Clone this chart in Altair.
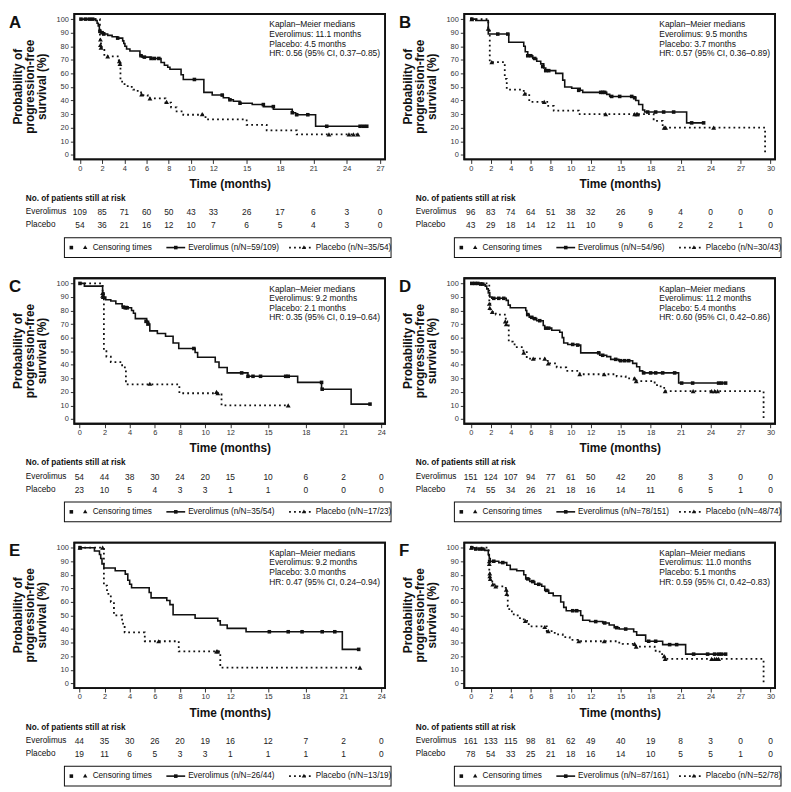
import altair as alt
import pandas as pd

FONT = "Liberation Sans, Arial, Helvetica, sans-serif"
INK = "#111111"

TICKS_24 = [0, 2, 4, 6, 8, 10, 12, 15, 18, 21, 24]
TICKS_27 = TICKS_24 + [27]
TICKS_30 = TICKS_27 + [30]

# ---------------- Panel A ----------------
A_ev_t = [0, 1.4, 1.55, 1.65, 1.75, 1.85, 2.2, 2.5, 2.9, 3.4, 3.85, 3.95, 4.05, 4.2, 4.5, 5.4, 5.6, 6.4, 7.3, 7.6, 7.9, 8.1, 9.1, 9.3, 11.15, 11.9, 12.9, 13.4, 13.8, 14.4, 15.5, 16.5, 17.4, 19.1, 19.4, 21.2, 25.8]
A_ev_s = [100, 99, 97, 95, 92, 90, 89, 88, 87, 86, 84, 82, 80, 78, 76.5, 73, 72, 71, 68, 66, 64.5, 63, 59, 55.5, 46, 44, 42, 40.5, 39.5, 38, 37, 35.5, 33.5, 31, 29.5, 21, 21]
A_evc_t = [0.1, 0.5, 0.85, 1.15, 1.8, 2.0, 2.15, 3.4, 5.5, 5.8, 6.4, 6.7, 7.1, 10.3, 12.8, 13.5, 14.4, 16.5, 17.4, 19.1, 19.5, 20.5, 22.2, 25.2, 25.5, 25.8]
A_evc_s = [100, 100, 100, 100, 91, 90, 89, 86, 73, 72, 71, 71, 71, 55.5, 44, 40.5, 38, 37, 35.5, 31, 29.5, 29.5, 21, 21, 21, 21]
A_pl_t = [0, 1.8, 1.9, 2.2, 3.5, 3.65, 3.8, 4.3, 4.8, 5.2, 5.5, 6.1, 7.7, 8.2, 8.7, 9.3, 11.3, 15.0, 16.8, 19.5, 25.1]
A_pl_s = [100, 85, 79, 72.5, 68, 55, 52, 50, 48, 46, 44, 41.5, 38.5, 35, 32, 29.5, 26, 22, 18, 15, 15]
A_plc_t = [1.85, 1.85, 1.9, 2.5, 3.55, 3.6, 5.55, 6.3, 7.8, 11.0, 22.4, 24.2, 24.6, 25.0]
A_plc_s = [85, 81, 79, 72.5, 69, 67, 44.5, 41.5, 39, 30, 15, 15, 15, 15]
A_risk_ev = [109, 85, 71, 60, 50, 43, 33, 26, 17, 6, 3, 0]
A_risk_pl = [54, 36, 21, 16, 12, 10, 7, 6, 5, 4, 3, 0]
A_med = ["Kaplan\u2013Meier medians", "Everolimus: 11.1 months", "Placebo: 4.5 months", "HR: 0.56 (95% CI, 0.37\u20130.85)"]
A_nN = ["59/109", "35/54"]

# ---------------- Panel B ----------------
B_ev_t = [0, 0.5, 1.75, 3.8, 5.3, 5.45, 5.7, 6.2, 6.6, 7.0, 7.3, 7.5, 8.5, 9.2, 9.4, 10.1, 10.95, 11.2, 13.6, 13.9, 16.3, 16.5, 16.8, 17.2, 17.4, 21.6, 23.3]
B_ev_s = [100, 99, 89, 83, 80, 76, 73, 71, 69, 67, 64, 62, 60, 55, 50, 49, 47.5, 46, 44.5, 43, 42, 40, 37, 33, 31.5, 23.5, 23.5]
B_evc_t = [0.1, 2.7, 3.7, 5.7, 6.0, 6.4, 7.2, 7.5, 7.8, 10.8, 13.0, 13.2, 13.4, 14.1, 14.9, 16.1, 16.4, 17.7, 18.5, 19.3, 20.3, 22.1, 23.3]
B_evc_s = [100, 89, 89, 73, 73, 71, 65, 62, 62, 47.5, 46, 46, 46, 43, 43, 43, 42, 31.5, 31.5, 31.5, 31.5, 23.5, 23.5]
B_pl_t = [0, 1.75, 1.9, 3.4, 3.6, 5.3, 5.85, 7.65, 8.3, 10.8, 18.3, 19.2, 29.45]
B_pl_s = [100, 93, 68.3, 56, 48, 45, 39, 36, 32.5, 30, 25, 20, 0]
B_plc_t = [0.1, 1.75, 2.1, 5.4, 7.35, 13.5, 16.4, 16.6, 16.7, 19.35, 19.5, 24.3]
B_plc_s = [100, 93, 68.3, 45, 39, 30, 30, 30, 30, 20, 20, 20]
B_risk_ev = [96, 83, 74, 64, 51, 38, 32, 26, 9, 4, 0, 0, 0]
B_risk_pl = [43, 29, 18, 14, 12, 11, 10, 9, 6, 2, 2, 1, 0]
B_med = ["Kaplan\u2013Meier medians", "Everolimus: 9.5 months", "Placebo: 3.7 months", "HR: 0.57 (95% CI, 0.36\u20130.89)"]
B_nN = ["54/96", "30/43"]

# ---------------- Panel C ----------------
C_ev_t = [0, 0.4, 1.85, 1.95, 2.1, 2.5, 2.9, 3.4, 3.8, 4.15, 4.3, 4.45, 5.35, 5.5, 5.6, 6.2, 6.85, 7.45, 7.9, 9.2, 9.4, 10.8, 11.1, 11.75, 13.4, 17.35, 19.25, 21.6, 23.1]
C_ev_s = [100, 98, 93, 90, 88, 87, 85, 83, 82, 80, 78, 74, 72, 70, 65, 63, 61, 56, 52, 49, 45.5, 42, 38, 34, 31.5, 27, 22, 11, 11]
C_evc_t = [0.05, 3.5, 3.65, 3.8, 5.3, 5.45, 9.1, 12.9, 13.4, 13.8, 14.4, 16.4, 16.6, 19.25, 19.3, 23.1]
C_evc_s = [100, 82.5, 82, 82, 72, 70, 52, 34, 31.5, 31.5, 31.5, 31.5, 31.5, 27, 22, 11]
C_pl_t = [0, 1.85, 1.95, 2.15, 2.5, 3.4, 3.7, 7.95, 11.3, 16.6]
C_pl_s = [100, 92, 50, 46, 42, 38, 25.5, 19, 10, 10]
C_plc_t = [1.85, 1.85, 1.9, 5.6, 10.9, 11.0, 16.6]
C_plc_s = [93, 91, 90, 26, 20, 19, 10]
C_risk_ev = [54, 44, 38, 30, 24, 20, 15, 10, 6, 2, 0]
C_risk_pl = [23, 10, 5, 4, 3, 3, 1, 1, 0, 0, 0]
C_med = ["Kaplan\u2013Meier medians", "Everolimus: 9.2 months", "Placebo: 2.1 months", "HR: 0.35 (95% CI, 0.19\u20130.64)"]
C_nN = ["35/54", "17/23"]

# ---------------- Panel D ----------------
D_ev_t = [0, 1.0, 1.3, 1.45, 1.6, 1.75, 1.9, 2.1, 3.55, 3.75, 3.95, 5.5, 5.6, 5.85, 6.2, 6.6, 7.25, 7.4, 8.1, 8.9, 9.15, 9.3, 9.7, 10.6, 11.0, 12.9, 13.6, 14.0, 14.8, 16.2, 16.6, 16.9, 17.2, 20.8, 25.6]
D_ev_s = [100, 99.5, 99, 98, 96, 93, 90, 89, 87.5, 84, 82, 80, 77, 75, 74, 72.5, 69, 67, 65.5, 64, 60, 56, 55, 54.5, 48.8, 47, 46, 44, 43, 41, 38.5, 35.5, 34, 26.5, 26.5]
D_evc_t = [0.1, 0.4, 0.7, 1.0, 1.2, 2.3, 2.8, 3.3, 5.7, 6.1, 6.4, 6.9, 7.5, 7.8, 10.2, 10.7, 12.8, 13.2, 14.5, 15.0, 15.4, 15.8, 17.3, 18.0, 18.5, 19.2, 20.4, 21.1, 22.2, 24.8, 25.1, 25.5]
D_evc_s = [100, 100, 100, 99.5, 99.5, 89, 89, 89, 77, 75, 74, 72.5, 67, 67, 55, 54.5, 48.8, 47, 44, 43, 43, 43, 34, 34, 34, 34, 34, 26.5, 26.5, 26.5, 26.5, 26.5]
D_pl_t = [0, 1.85, 1.95, 2.2, 2.5, 3.5, 3.65, 3.8, 4.2, 4.6, 5.1, 5.6, 7.7, 8.6, 9.55, 10.9, 14.6, 15.5, 16.6, 18.4, 19.0, 19.5, 29.3]
D_pl_s = [100, 85, 80, 79, 77, 72, 70, 57, 55, 53, 50.5, 44.5, 41, 38, 35.5, 33, 31.5, 30, 28, 25, 23, 20.5, 0]
D_plc_t = [1.85, 1.9, 2.15, 3.45, 3.55, 5.3, 6.25, 7.4, 7.75, 10.9, 13.35, 16.4, 16.55, 19.45, 22.25, 24.1, 24.4, 24.7]
D_plc_s = [85, 82, 79, 72, 70, 49, 44.5, 44.5, 41, 33, 33, 30, 28, 20.5, 20.5, 20.5, 20.5, 20.5]
D_risk_ev = [151, 124, 107, 94, 77, 61, 50, 42, 20, 8, 3, 0, 0]
D_risk_pl = [74, 55, 34, 26, 21, 18, 16, 14, 11, 6, 5, 1, 0]
D_med = ["Kaplan\u2013Meier medians", "Everolimus: 11.2 months", "Placebo: 5.4 months", "HR: 0.60 (95% CI, 0.42\u20130.86)"]
D_nN = ["78/151", "48/74"]

# ---------------- Panel E ----------------
E_ev_t = [0, 1.2, 1.6, 1.7, 1.8, 1.95, 2.85, 3.65, 3.85, 4.0, 4.15, 5.55, 5.7, 6.95, 7.2, 7.45, 9.2, 11.0, 11.2, 11.75, 13.25, 20.9, 22.2]
E_ev_s = [100, 97.5, 95, 92, 88, 85, 83, 80.5, 76, 73, 70.5, 67, 63, 61, 58, 50.5, 48, 46, 43, 40.5, 38, 25, 25]
E_evc_t = [0.05, 15.1, 16.6, 17.7, 19.3, 20.3, 22.2]
E_evc_s = [100, 38, 38, 38, 38, 38, 25]
E_pl_t = [0, 1.95, 2.2, 2.5, 2.75, 3.4, 3.6, 5.2, 7.9, 11.2, 22.3]
E_pl_s = [100, 72, 66, 60, 50, 44, 37.5, 31, 23.5, 11.5, 11.5]
E_plc_t = [0.05, 1.85, 6.3, 10.9, 11.0, 22.3]
E_plc_s = [100, 100, 31, 23.5, 23.5, 11.5]
E_risk_ev = [44, 35, 30, 26, 20, 19, 16, 12, 7, 2, 0]
E_risk_pl = [19, 11, 6, 5, 3, 3, 1, 1, 1, 1, 0]
E_med = ["Kaplan\u2013Meier medians", "Everolimus: 9.2 months", "Placebo: 3.0 months", "HR: 0.47 (95% CI, 0.24\u20130.94)"]
E_nN = ["26/44", "13/19"]

# ---------------- Panel F ----------------
F_ev_t = [0, 0.4, 1.4, 1.75, 1.85, 1.95, 2.8, 3.6, 3.95, 4.6, 5.3, 5.5, 5.9, 6.4, 7.1, 7.4, 7.8, 8.25, 9.0, 9.3, 9.55, 11.0, 11.2, 11.9, 13.2, 13.85, 14.35, 14.85, 16.3, 16.6, 17.5, 19.2, 21.5, 25.6]
F_ev_s = [100, 99, 98, 95, 92, 90, 89, 87, 84, 83, 80, 77, 75, 73, 71.5, 68.5, 66.5, 64.5, 60, 56, 53.5, 50, 46.5, 45.5, 44.5, 43, 41, 40, 38, 35.5, 31, 28.5, 21.5, 21.5]
F_evc_t = [0.1, 0.5, 0.9, 1.2, 2.3, 3.2, 5.7, 6.2, 6.8, 7.6, 10.2, 10.6, 12.5, 13.4, 14.6, 15.5, 17.8, 18.5, 19.9, 20.6, 22.3, 23.7, 24.4, 24.8, 25.1, 25.5]
F_evc_s = [100, 99, 99, 99, 90, 89, 77, 75, 73, 68.5, 53.5, 53.5, 45.5, 44.5, 41, 40, 31, 31, 28.5, 28.5, 21.5, 21.5, 21.5, 21.5, 21.5, 21.5]
F_pl_t = [0, 1.8, 1.85, 1.9, 2.15, 2.5, 3.5, 3.6, 3.7, 3.85, 4.3, 4.8, 5.3, 5.8, 7.6, 8.4, 9.2, 9.9, 10.7, 14.6, 15.2, 16.5, 18.4, 18.9, 19.4, 29.3]
F_pl_s = [100, 90, 81, 77, 73, 71.5, 69, 66, 57, 53, 50, 48, 46, 42, 38.5, 36, 34, 32, 31, 30, 29, 27, 24, 21.5, 18, 0]
F_plc_t = [0.05, 1.85, 1.85, 1.9, 1.9, 1.95, 2.2, 2.5, 3.55, 3.6, 5.45, 7.4, 7.75, 10.8, 13.35, 16.4, 16.55, 19.35, 19.45, 24.1, 24.4, 24.6, 24.8]
F_plc_s = [100, 90, 88, 81, 79, 77, 73, 71.5, 69, 66, 46, 41.5, 38.5, 31, 31, 29, 27, 20, 18, 18, 18, 18, 18]
F_risk_ev = [161, 133, 115, 98, 81, 62, 49, 40, 19, 8, 3, 0, 0]
F_risk_pl = [78, 54, 33, 25, 21, 18, 16, 14, 10, 5, 5, 1, 0]
F_med = ["Kaplan\u2013Meier medians", "Everolimus: 11.0 months", "Placebo: 5.1 months", "HR: 0.59 (95% CI, 0.42\u20130.83)"]
F_nN = ["87/161", "52/78"]

W, H = 314, 147
YDOM = [-3.5, 103.8]
ONE = pd.DataFrame({"k": [0]})

# vertical layout (pixels from the top of each plot frame)
MED_Y = [10.5, 20.2, 29.9, 39.6]
Y_HEAD, Y_EV, Y_PL = 187, 200.5, 213.5
LEG_TOP, LEG_BOT = 226, 246
LEG_MID = (LEG_TOP + LEG_BOT) / 2


def txt(text, x, y, size=8.5, weight="normal", align="left", baseline="middle", angle=0, color=INK):
    kw = dict(fontSize=size, fontWeight=weight, align=align, baseline=baseline, color=color)
    if angle:
        kw["angle"] = angle
    return alt.Chart(ONE).mark_text(**kw).encode(
        x=alt.value(x), y=alt.value(y), text=alt.value(text))


def sym(shape, x, y, size):
    return alt.Chart(ONE).mark_point(shape=shape, filled=True, size=size, color=INK,
                                     opacity=1).encode(x=alt.value(x), y=alt.value(y))


def hline(x1, x2, y, width, dash=None):
    kw = dict(color=INK, strokeWidth=width)
    if dash:
        kw["strokeDash"] = dash
    return alt.Chart(ONE).mark_rule(**kw).encode(
        x=alt.value(x1), x2=alt.value(x2), y=alt.value(y))


def ring_path(half_w, half_h, lw):
    # filled outline of a rectangle (outer clockwise, inner counter-clockwise -> hole)
    a, b = half_w + lw / 2, half_h + lw / 2
    c, d = half_w - lw / 2, half_h - lw / 2
    return (f"M{-a:.2f},{-b:.2f}H{a:.2f}V{b:.2f}H{-a:.2f}Z"
            f"M{-c:.2f},{-d:.2f}V{d:.2f}H{c:.2f}V{-d:.2f}Z")


def ring(x1, x2, y1, y2, lw):
    # symbol size 4 -> custom path drawn at 1:1 pixel scale
    return alt.Chart(ONE).mark_point(shape=ring_path((x2 - x1) / 2, (y2 - y1) / 2, lw),
                                     filled=True, size=4, color=INK, opacity=1,
                                     strokeWidth=0).encode(
        x=alt.value((x1 + x2) / 2), y=alt.value((y1 + y2) / 2))


def panel(letter, dom, ticks, ev_t, ev_s, evc_t, evc_s, pl_t, pl_s, plc_t, plc_s,
          risk_ev, risk_pl, med, nN):
    X = alt.X("t:Q", scale=alt.Scale(domain=dom, nice=False, zero=False),
              axis=alt.Axis(values=ticks, title="Time (months)", grid=False, domain=False,
                            tickSize=4, tickColor="#333", labelFontSize=7.5, labelColor="#333",
                            labelPadding=1, labelFlush=False, titleFontSize=12,
                            titleFontWeight="bold", titleColor=INK, titlePadding=7))
    Y = alt.Y("s:Q", scale=alt.Scale(domain=YDOM, nice=False, zero=False),
              axis=alt.Axis(values=list(range(0, 101, 10)), title=None, grid=False,
                            domain=False, tickSize=4, tickColor="#333", labelFontSize=7.5,
                            labelColor="#333", labelPadding=2))
    ev = pd.DataFrame({"t": ev_t, "s": ev_s})
    pl = pd.DataFrame({"t": pl_t, "s": pl_s})
    evc = pd.DataFrame({"t": evc_t, "s": evc_s})
    plc = pd.DataFrame({"t": plc_t, "s": plc_s})
    rk_e = pd.DataFrame({"t": ticks[:len(risk_ev)], "n": risk_ev})
    rk_p = pd.DataFrame({"t": ticks[:len(risk_pl)], "n": risk_pl})

    layers = [
        ring(0, W, 0, H, 1.8),                 # plot frame
        ring(-10, 320, LEG_TOP, LEG_BOT, 1),   # legend frame
        alt.Chart(pl).mark_line(interpolate="step-after", color=INK, strokeWidth=1.8,
                                strokeDash=[1.8, 3.2]).encode(x=X, y=Y),
        alt.Chart(ev).mark_line(interpolate="step-after", color=INK,
                                strokeWidth=1.6).encode(x=X, y=Y),
        alt.Chart(evc).mark_point(shape="square", filled=True, size=13, color=INK,
                                  opacity=1).encode(x=X, y=Y),
        alt.Chart(plc).mark_point(shape="triangle-up", filled=True, size=24, color=INK,
                                  opacity=1).encode(x=X, y=Y),
    ]
    # medians box
    layers += [txt(m, 197, yy, size=8.5) for m, yy in zip(med, MED_Y)]
    layers += [
        # panel letter and y title
        txt(letter, -66, 14, size=17, weight="bold", baseline="alphabetic"),
        txt("Probability of", -57, H / 2, size=12, weight="bold", align="center", angle=270),
        txt("progression-free", -45, H / 2, size=12, weight="bold", align="center", angle=270),
        txt("survival (%)", -33, H / 2, size=12, weight="bold", align="center", angle=270),
        # risk table
        txt("No. of patients still at risk", -49, Y_HEAD, size=8.3, weight="bold"),
        txt("Everolimus", -49, Y_EV, size=8.3),
        txt("Placebo", -49, Y_PL, size=8.3),
        alt.Chart(rk_e).mark_text(fontSize=8.5, align="center", baseline="middle",
                                  color="#222").encode(x=X, y=alt.value(Y_EV), text="n:N"),
        alt.Chart(rk_p).mark_text(fontSize=8.5, align="center", baseline="middle",
                                  color="#222").encode(x=X, y=alt.value(Y_PL), text="n:N"),
        # legend contents
        sym("square", -3, LEG_MID, 13),
        sym("triangle-up", 11, LEG_MID - 0.5, 20),
        txt("Censoring times", 18.5, LEG_MID, size=8.3),
        hline(93, 112, LEG_MID, 1.6),
        sym("square", 102.5, LEG_MID, 13),
        txt("Everolimus (n/N=%s)" % nN[0], 115, LEG_MID, size=8.3),
        hline(217, 242, LEG_MID, 1.8, dash=[1.8, 3.2]),
        sym("triangle-up", 232, LEG_MID - 0.5, 20),
        txt("Placebo (n/N=%s)" % nN[1], 244, LEG_MID, size=8.3),
    ]
    return alt.layer(*layers).properties(width=W, height=H)


pA = panel("A", [-0.5, 27.45], TICKS_27, A_ev_t, A_ev_s, A_evc_t, A_evc_s, A_pl_t, A_pl_s,
           A_plc_t, A_plc_s, A_risk_ev, A_risk_pl, A_med, A_nN)
pB = panel("B", [-0.65, 30.45], TICKS_30, B_ev_t, B_ev_s, B_evc_t, B_evc_s, B_pl_t, B_pl_s,
           B_plc_t, B_plc_s, B_risk_ev, B_risk_pl, B_med, B_nN)
pC = panel("C", [-0.4, 24.3], TICKS_24, C_ev_t, C_ev_s, C_evc_t, C_evc_s, C_pl_t, C_pl_s,
           C_plc_t, C_plc_s, C_risk_ev, C_risk_pl, C_med, C_nN)
pD = panel("D", [-0.65, 30.45], TICKS_30, D_ev_t, D_ev_s, D_evc_t, D_evc_s, D_pl_t, D_pl_s,
           D_plc_t, D_plc_s, D_risk_ev, D_risk_pl, D_med, D_nN)
pE = panel("E", [-0.4, 24.3], TICKS_24, E_ev_t, E_ev_s, E_evc_t, E_evc_s, E_pl_t, E_pl_s,
           E_plc_t, E_plc_s, E_risk_ev, E_risk_pl, E_med, E_nN)
pF = panel("F", [-0.65, 30.45], TICKS_30, F_ev_t, F_ev_s, F_evc_t, F_evc_s, F_pl_t, F_pl_s,
           F_plc_t, F_plc_s, F_risk_ev, F_risk_pl, F_med, F_nN)

chart = alt.concat(
    pA, pB, pC, pD, pE, pF,
    columns=2,
    spacing={"row": 120, "column": 80},
    bounds="flush",
).properties(
    padding={"left": 0, "top": 0, "right": 0, "bottom": 0}
).configure(font=FONT).configure_view(stroke=INK, strokeWidth=1.8)

chart.save("out.html", embed_options={"renderer": "svg", "actions": False})
